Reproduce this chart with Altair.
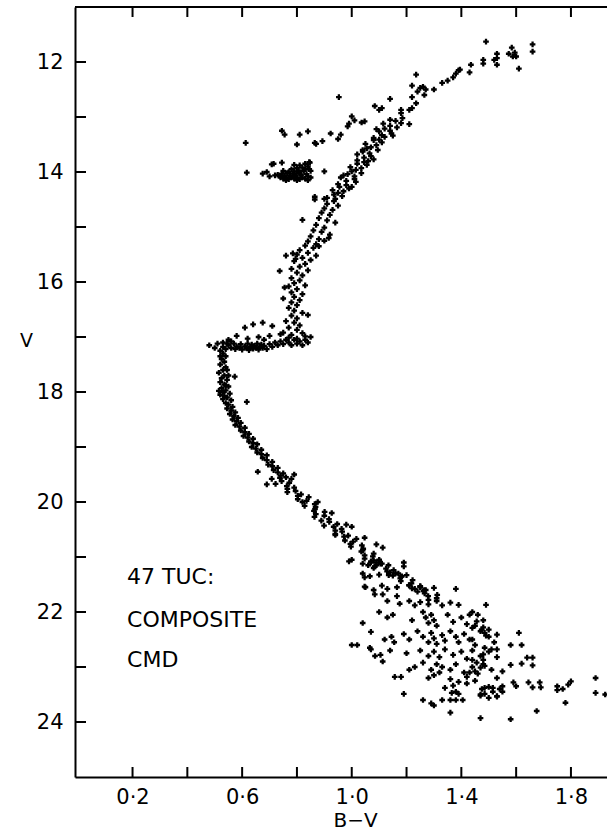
import altair as alt
import pandas as pd

# ---------------- data: (B-V, V) ----------------
giant_top = [
    (1.66, 11.68), (1.66, 11.81), (1.61, 12.12), (1.60, 11.90), (1.595, 11.83), (1.588, 11.90),
    (1.584, 11.74), (1.573, 11.85), (1.53, 11.93), (1.53, 12.05), (1.53, 11.85), (1.52, 11.96),
    (1.49, 11.63), (1.48, 12.03), (1.48, 11.96), (1.435, 12.05), (1.43, 12.19), (1.395, 12.14),
    (1.39, 12.15), (1.38, 12.21), (1.37, 12.28), (1.35, 12.34), (1.33, 12.38), (1.30, 12.50),
    (1.235, 12.23), (1.22, 12.43), (1.265, 12.60), (1.27, 12.50), (1.26, 12.45), (1.25, 12.47),
    (1.24, 12.54), (1.22, 12.64), (1.235, 12.75), (1.22, 12.84), (1.21, 12.87), (1.18, 12.93),
    (1.18, 12.87), (1.14, 12.67), (1.11, 12.84), (1.10, 12.87), (1.084, 12.80), (0.953, 12.64),
]

giant_mid = [
    (1.185, 13.02), (1.14, 13.05), (1.16, 13.07), (1.18, 13.11), (1.115, 13.12), (1.14, 13.16),
    (1.165, 13.19), (1.12, 13.21), (1.14, 13.25), (1.10, 13.26), (1.145, 13.30), (1.11, 13.33),
    (1.15, 13.34), (1.08, 13.38), (1.10, 13.41), (1.08, 13.42), (1.11, 13.46), (1.05, 13.49),
    (1.09, 13.51), (1.07, 13.55), (1.055, 13.57), (1.095, 13.60), (1.04, 13.63), (1.065, 13.66),
    (1.02, 13.68), (1.07, 13.71), (1.045, 13.74), (1.08, 13.77), (1.02, 13.79), (1.045, 13.82),
    (1.02, 13.85), (1.055, 13.87), (0.995, 13.91), (1.035, 13.93), (1.015, 13.96), (1.00, 13.99),
    (1.035, 14.02), (0.985, 14.04), (1.01, 14.08), (0.96, 14.10), (1.01, 14.13), (0.98, 14.16),
    (1.015, 14.18), (0.95, 14.22), (0.98, 14.24), (0.955, 14.27), (0.99, 14.30), (0.93, 14.33),
    (0.97, 14.35), (0.95, 14.38), (0.935, 14.41), (0.965, 14.44), (0.91, 14.47), (0.94, 14.49),
    (0.865, 14.45), (1.21, 13.13), (0.90, 14.49), (1.09, 13.22), (1.04, 13.60), (1.00, 14.27),
    (1.12, 13.36), (1.06, 13.80), (0.97, 14.06),
]

asymptotic = [
    (0.613, 13.47), (0.745, 13.25), (0.755, 13.32), (0.80, 13.50), (0.81, 13.32), (0.84, 13.26),
    (0.865, 13.47), (0.87, 13.49), (0.893, 13.44), (0.923, 13.30), (0.95, 13.40), (0.96, 13.32),
    (0.985, 13.17), (0.99, 13.12), (1.00, 12.99), (1.01, 13.06), (1.036, 13.10), (1.047, 13.08),
]

horizontal_branch = [
    (0.73, 14.05), (0.74, 14.10), (0.745, 14.03), (0.75, 14.12), (0.755, 14.06), (0.76, 14.10),
    (0.765, 14.02), (0.77, 14.13), (0.775, 14.07), (0.78, 14.10), (0.785, 14.03), (0.79, 14.12),
    (0.795, 14.06), (0.80, 14.10), (0.805, 14.00), (0.81, 14.13), (0.815, 14.05), (0.82, 14.10),
    (0.825, 13.98), (0.83, 14.12), (0.835, 14.04), (0.84, 14.08), (0.845, 13.95), (0.85, 14.10),
    (0.80, 13.93), (0.81, 13.88), (0.82, 13.92), (0.83, 13.85), (0.84, 13.90), (0.845, 13.82),
    (0.85, 13.98), (0.805, 13.97), (0.78, 13.95), (0.79, 13.99), (0.77, 14.00), (0.76, 14.15),
    (0.80, 14.15), (0.84, 14.15), (0.75, 13.98), (0.83, 13.95), (0.81, 14.02), (0.79, 14.04),
    (0.74, 14.07), (0.72, 14.06), (0.745, 13.83), (0.708, 13.86), (0.715, 13.85), (0.617, 14.01),
    (0.675, 14.03), (0.69, 14.00), (0.70, 14.08), (0.90, 13.99), (0.847, 13.83), (0.79, 13.87),
]

giant_lower = [
    (0.935, 14.53), (0.91, 14.58), (0.95, 14.61), (0.90, 14.66), (0.93, 14.69), (0.89, 14.74),
    (0.92, 14.78), (0.88, 14.84), (0.91, 14.88), (0.94, 14.92), (0.87, 14.96), (0.90, 15.01),
    (0.86, 15.06), (0.89, 15.09), (0.92, 15.14), (0.85, 15.17), (0.88, 15.22), (0.916, 15.20),
    (0.84, 15.26), (0.87, 15.31), (0.83, 15.34), (0.86, 15.38), (0.81, 15.42), (0.84, 15.47),
    (0.87, 15.52), (0.80, 15.50), (0.82, 15.56), (0.85, 15.60), (0.79, 15.62), (0.83, 15.67),
    (0.81, 15.72), (0.78, 15.76), (0.84, 15.79), (0.80, 15.83), (0.82, 15.88), (0.78, 15.93),
    (0.81, 15.97), (0.79, 16.02), (0.83, 16.06), (0.77, 16.08), (0.80, 16.13), (0.78, 16.19),
    (0.82, 16.22), (0.79, 16.27), (0.81, 16.33), (0.78, 16.37), (0.80, 16.42), (0.77, 16.47),
    (0.79, 16.52), (0.82, 16.56), (0.78, 16.61), (0.80, 16.66), (0.76, 16.71), (0.79, 16.74),
    (0.81, 16.79), (0.77, 16.83), (0.80, 16.87), (0.75, 16.92), (0.78, 16.96), (0.82, 16.93),
    (0.77, 17.01), (0.80, 17.03), (0.83, 16.99), (0.737, 15.80), (0.82, 14.87), (0.755, 16.10),
    (0.75, 16.30), (0.84, 16.60), (0.865, 14.50), (0.785, 15.48), (0.795, 15.58), (0.76, 15.52),
    (0.88, 15.35), (0.90, 15.25),
]

subgiant = [
    (0.48, 17.15), (0.50, 17.20), (0.51, 17.12), (0.52, 17.25), (0.53, 17.18), (0.54, 17.22),
    (0.55, 17.15), (0.56, 17.20), (0.57, 17.12), (0.575, 17.22), (0.58, 17.17), (0.59, 17.20),
    (0.595, 17.13), (0.60, 17.23), (0.61, 17.17), (0.615, 17.20), (0.62, 17.12), (0.625, 17.24),
    (0.63, 17.18), (0.635, 17.14), (0.64, 17.21), (0.645, 17.16), (0.65, 17.20), (0.655, 17.12),
    (0.66, 17.23), (0.665, 17.17), (0.67, 17.14), (0.675, 17.20), (0.68, 17.16), (0.69, 17.22),
    (0.70, 17.13), (0.71, 17.18), (0.72, 17.10), (0.73, 17.15), (0.74, 17.08), (0.75, 17.13),
    (0.76, 17.05), (0.77, 17.10), (0.78, 17.15), (0.79, 17.05), (0.80, 17.12), (0.81, 17.08),
    (0.82, 17.15), (0.83, 17.05), (0.84, 17.10), (0.85, 17.00), (0.61, 16.83), (0.64, 16.77),
    (0.675, 16.74), (0.71, 16.80), (0.58, 16.98), (0.66, 17.00), (0.70, 16.98), (0.74, 16.95),
    (0.55, 17.05), (0.62, 17.03), (0.68, 17.05), (0.53, 17.10), (0.545, 17.12), (0.56, 17.08),
]

turnoff = [
    (0.53, 17.30), (0.54, 17.35), (0.525, 17.40), (0.535, 17.45), (0.52, 17.50), (0.54, 17.55),
    (0.53, 17.60), (0.515, 17.65), (0.535, 17.70), (0.525, 17.75), (0.545, 17.78), (0.52, 17.82),
    (0.535, 17.86), (0.55, 17.90), (0.525, 17.93), (0.54, 17.97), (0.53, 18.00), (0.555, 18.03),
    (0.535, 18.07), (0.545, 18.10), (0.53, 18.13), (0.56, 18.15), (0.54, 18.20), (0.55, 18.23),
    (0.565, 18.27), (0.545, 18.30), (0.56, 18.34), (0.575, 18.37), (0.555, 18.40), (0.57, 18.44),
    (0.585, 18.47), (0.565, 18.50), (0.58, 18.53), (0.595, 18.56), (0.575, 18.60), (0.59, 18.63),
    (0.61, 18.65), (0.595, 18.70), (0.61, 18.73), (0.625, 18.76), (0.605, 18.80), (0.62, 18.83),
    (0.64, 18.85), (0.625, 18.90), (0.64, 18.93), (0.655, 18.95), (0.635, 19.00), (0.65, 19.03),
    (0.67, 19.05), (0.655, 19.10), (0.67, 19.13), (0.69, 19.15), (0.675, 19.20), (0.69, 19.24),
    (0.71, 19.27), (0.695, 19.32), (0.71, 19.35), (0.73, 19.38), (0.715, 19.42), (0.73, 19.46),
    (0.75, 19.48), (0.74, 19.52), (0.76, 19.55), (0.78, 19.58), (0.573, 17.72), (0.617, 18.18),
    (0.515, 17.98), (0.657, 19.45), (0.79, 19.50), (0.52, 17.35), (0.545, 17.60), (0.55, 17.70),
    (0.54, 17.88), (0.52, 18.05),
]

main_sequence_upper = [
    (0.738, 19.56), (0.708, 19.58), (0.744, 19.62), (0.772, 19.65), (0.722, 19.67), (0.763, 19.71),
    (0.79, 19.74), (0.765, 19.76), (0.795, 19.80), (0.765, 19.82), (0.815, 19.86), (0.803, 19.89),
    (0.843, 19.91), (0.803, 19.95), (0.835, 19.98), (0.82, 20.00), (0.865, 20.04), (0.828, 20.07),
    (0.868, 20.09), (0.866, 20.13), (0.862, 20.16), (0.901, 20.18), (0.869, 20.22), (0.90, 20.25),
    (0.864, 20.27), (0.917, 20.31), (0.889, 20.34), (0.918, 20.36), (0.947, 20.40), (0.899, 20.43),
    (0.934, 20.45), (0.963, 20.49), (0.94, 20.52), (0.965, 20.54), (0.94, 20.58), (0.987, 20.61),
    (0.972, 20.63), (1.017, 20.67), (0.975, 20.70), (1.005, 20.72), (0.995, 20.76), (1.037, 20.79),
    (0.997, 20.81), (1.042, 20.85), (1.04, 20.88), (1.035, 20.90), (1.08, 20.94), (1.047, 20.97),
    (1.077, 20.99), (1.047, 21.03), (1.10, 21.06), (1.07, 21.08), (1.105, 21.12), (1.134, 21.15),
    (1.084, 21.17), (1.125, 21.21), (1.153, 21.24), (1.129, 21.26), (1.16, 21.30), (1.135, 21.33),
    (1.183, 21.35), (1.177, 21.39), (1.222, 21.42), (1.179, 21.44), (1.218, 21.48), (1.209, 21.51),
    (1.25, 21.53), (1.22, 21.57), (1.265, 21.60), (1.262, 21.62), (1.266, 21.66), (1.312, 21.69),
    (1.279, 21.71), (1.31, 21.75), (1.28, 21.78), (0.69, 19.68), (0.876, 20.00), (0.927, 20.20),
    (0.98, 20.41), (1.00, 20.45), (1.047, 20.65), (1.09, 20.77), (1.113, 20.83), (0.94, 20.60),
    (1.00, 21.05), (1.047, 21.37), (1.047, 21.54), (1.19, 21.17), (1.084, 21.68), (1.113, 21.68),
    (1.25, 21.54), (1.30, 21.56), (1.165, 21.71), (1.07, 21.10), (1.09, 21.15), (1.10, 21.05),
    (1.08, 21.20), (1.06, 21.15),
]

main_sequence_lower = [
    (0.99, 21.08), (1.04, 21.12), (1.08, 21.06), (1.09, 21.10), (1.11, 21.12), (1.19, 21.10),
    (1.04, 21.30), (1.066, 21.35), (1.10, 21.32), (1.14, 21.28), (1.15, 21.34), (1.17, 21.30),
    (1.18, 21.36), (1.20, 21.33), (1.05, 21.55), (1.08, 21.60), (1.11, 21.52), (1.13, 21.58),
    (1.165, 21.55), (1.21, 21.52), (1.23, 21.58), (1.24, 21.63), (1.25, 21.55), (1.27, 21.60),
    (1.38, 21.58), (1.13, 21.80), (1.175, 21.85), (1.21, 21.80), (1.23, 21.88), (1.25, 21.82),
    (1.28, 21.86), (1.31, 21.80), (1.33, 21.88), (1.36, 21.83), (1.39, 21.87), (1.49, 21.87),
    (1.04, 22.20), (1.10, 22.00), (1.13, 22.10), (1.15, 22.05), (1.22, 22.15), (1.26, 22.00),
    (1.27, 22.10), (1.28, 22.20), (1.29, 22.05), (1.30, 22.15), (1.31, 22.25), (1.35, 22.05),
    (1.37, 22.18), (1.40, 22.10), (1.42, 22.22), (1.46, 22.05), (1.44, 22.00), (1.48, 22.15),
    (1.45, 22.25), (1.00, 22.60), (1.02, 22.60), (1.07, 22.36), (1.12, 22.50), (1.145, 22.45),
    (1.155, 22.55), (1.19, 22.40), (1.21, 22.50), (1.24, 22.35), (1.26, 22.45), (1.28, 22.55),
    (1.29, 22.38), (1.30, 22.48), (1.31, 22.58), (1.33, 22.42), (1.34, 22.52), (1.36, 22.35),
    (1.38, 22.45), (1.39, 22.55), (1.41, 22.40), (1.43, 22.50), (1.45, 22.60), (1.47, 22.35),
    (1.50, 22.45), (1.52, 22.55), (1.48, 22.28), (1.066, 22.65), (1.07, 22.68), (1.105, 22.78),
    (1.14, 22.70), (1.20, 22.75), (1.25, 22.70), (1.28, 22.80), (1.30, 22.72), (1.32, 22.82),
    (1.34, 22.68), (1.37, 22.78), (1.40, 22.72), (1.42, 22.85), (1.44, 22.70), (1.47, 22.80),
    (1.50, 22.72), (1.53, 22.82), (1.113, 22.90), (1.085, 22.80), (1.23, 23.00), (1.26, 22.92),
    (1.29, 23.05), (1.31, 22.95), (1.32, 23.10), (1.33, 23.00), (1.36, 23.05), (1.38, 22.95),
    (1.41, 23.10), (1.44, 23.00), (1.46, 23.12), (1.48, 22.95), (1.51, 23.05), (1.55, 23.08),
    (1.157, 23.18), (1.18, 23.18), (1.21, 23.05), (1.28, 23.20), (1.30, 23.15), (1.36, 23.22),
    (1.42, 23.18), (1.45, 23.25), (1.19, 23.49), (1.34, 23.38), (1.37, 23.34), (1.39, 23.27),
    (1.42, 23.30), (1.365, 23.47), (1.38, 23.45), (1.39, 23.49), (1.47, 23.50), (1.485, 23.49),
    (1.475, 23.40), (1.50, 23.56), (1.515, 23.45), (1.53, 23.54), (1.54, 23.40), (1.55, 23.35),
    (1.26, 23.60), (1.29, 23.66), (1.30, 23.70), (1.33, 23.60), (1.36, 23.60), (1.38, 23.60),
    (1.405, 23.60), (1.36, 23.83), (1.47, 23.93), (1.58, 23.95), (1.675, 23.80), (1.78, 23.65),
]

main_sequence_red = [
    (1.61, 22.38), (1.62, 22.60), (1.58, 22.60), (1.66, 22.83), (1.64, 22.83), (1.62, 22.94),
    (1.58, 22.96), (1.66, 22.97), (1.59, 23.28), (1.60, 23.35), (1.645, 23.28), (1.686, 23.28),
    (1.66, 23.37), (1.69, 23.37), (1.75, 23.35), (1.75, 23.42), (1.77, 23.40), (1.79, 23.32),
    (1.80, 23.26), (1.89, 23.20), (1.89, 23.47), (1.925, 23.50), (1.43, 22.05), (1.456, 22.17),
    (1.44, 22.29), (1.474, 22.32), (1.485, 22.38), (1.50, 22.32), (1.49, 22.43), (1.44, 22.50),
    (1.53, 22.41), (1.485, 22.65), (1.51, 22.68), (1.53, 22.68), (1.48, 22.77), (1.44, 22.87),
    (1.456, 22.92), (1.48, 22.87), (1.485, 22.98), (1.47, 23.01), (1.45, 23.08), (1.43, 23.10),
    (1.53, 23.20), (1.515, 23.38), (1.50, 23.36), (1.485, 23.38), (1.47, 23.52), (1.55, 23.45),
    (1.53, 23.53),
]

groups = [giant_top, giant_mid, asymptotic, horizontal_branch, giant_lower,
          subgiant, turnoff, main_sequence_upper, main_sequence_lower, main_sequence_red]

x_tick_values = [0.2, 0.4, 0.6, 0.8, 1.0, 1.2, 1.4, 1.6, 1.8]
x_label_values = [0.2, 0.6, 1.0, 1.4, 1.8]
y_tick_values = [12, 13, 14, 15, 16, 17, 18, 19, 20, 21, 22, 23, 24]
y_label_values = [12, 14, 16, 18, 20, 22, 24]

note_lines = ["47 TUC:", "COMPOSITE", "CMD"]
note_bv = [0.18, 0.18, 0.18]
note_v = [21.37, 22.14, 22.87]

# ---------------- layout constants ----------------
W, H = 532, 770
TICK_PX = 10
FONT = "DejaVu Sans"
V_MIN, V_MAX = 11, 25
half_tick_v = (TICK_PX / 2) * (V_MAX - V_MIN) / H  # half a tick length on the V scale

# ---------------- build tables ----------------
stars = pd.DataFrame([p for g in groups for p in g], columns=["bv", "v"])
# centres of the inward tick marks on the bottom and top edges
edge_tick_table = pd.DataFrame({
    "bv": x_tick_values * 2,
    "v": [V_MAX - half_tick_v] * len(x_tick_values) + [V_MIN + half_tick_v] * len(x_tick_values),
})
left_tick_table = pd.DataFrame({"v": y_tick_values})
frame_table = pd.DataFrame({"edge": ["frame"]})
notes = pd.DataFrame({"bv": note_bv, "v": note_v, "label": note_lines})

xscale = alt.Scale(domain=[-0.01, 1.9316], nice=False, zero=False)
yscale = alt.Scale(domain=[V_MIN, V_MAX], reverse=True, nice=False, zero=False)

x_axis = alt.Axis(
    values=x_label_values, ticks=False, grid=False, domain=True,
    domainColor="black", domainWidth=2,
    labelExpr="replace(format(datum.value, '.1f'), '.', '·')",
    labelFont=FONT, labelFontSize=21, labelColor="black", labelPadding=9,
    title="B−V", titleFont=FONT, titleFontSize=20, titleFontWeight="normal",
    titleColor="black", titleX=280, titleY=33, titleBaseline="top")
y_axis = alt.Axis(
    values=y_label_values, ticks=False, grid=False, domain=True,
    domainColor="black", domainWidth=2,
    labelFont=FONT, labelFontSize=21, labelColor="black", labelPadding=12,
    title="V", titleFont=FONT, titleFontSize=19, titleFontWeight="normal",
    titleColor="black", titleAngle=0, titleX=-49, titleY=333,
    titleAlign="center", titleBaseline="middle")

X = alt.X("bv:Q", scale=xscale, axis=x_axis, title="B−V")
Y = alt.Y("v:Q", scale=yscale, axis=y_axis, title="V")

points = alt.Chart(stars).mark_point(
    shape="cross", filled=True, size=32, color="black", opacity=1, clip=True
).encode(x=X, y=Y)

# vertical tick marks drawn as line-shaped symbols (10 px tall)
edge_ticks = alt.Chart(edge_tick_table).mark_point(
    shape="M0,-1L0,1", filled=False, size=TICK_PX * TICK_PX,
    color="black", strokeWidth=2, opacity=1
).encode(x=X, y=Y)

left_ticks = alt.Chart(left_tick_table).mark_rule(color="black", strokeWidth=2).encode(
    y=Y, x=alt.value(0), x2=alt.value(TICK_PX + 1))

frame_top = alt.Chart(frame_table).mark_rule(color="black", strokeWidth=2).encode(
    x=alt.value(0), x2=alt.value(W), y=alt.value(0))

note = alt.Chart(notes).mark_text(
    align="left", baseline="middle", font=FONT, fontSize=22, color="black"
).encode(x=X, y=Y, text="label:N")

chart = alt.layer(points, edge_ticks, left_ticks, frame_top, note).properties(
    width=W, height=H,
    autosize=alt.AutoSizeParams(type="none"),
    padding={"left": 75, "top": 7, "right": 0, "bottom": 53},
    background="white",
).configure_view(stroke=None)

chart.save("out.html", embed_options={"renderer": "svg", "actions": False})
